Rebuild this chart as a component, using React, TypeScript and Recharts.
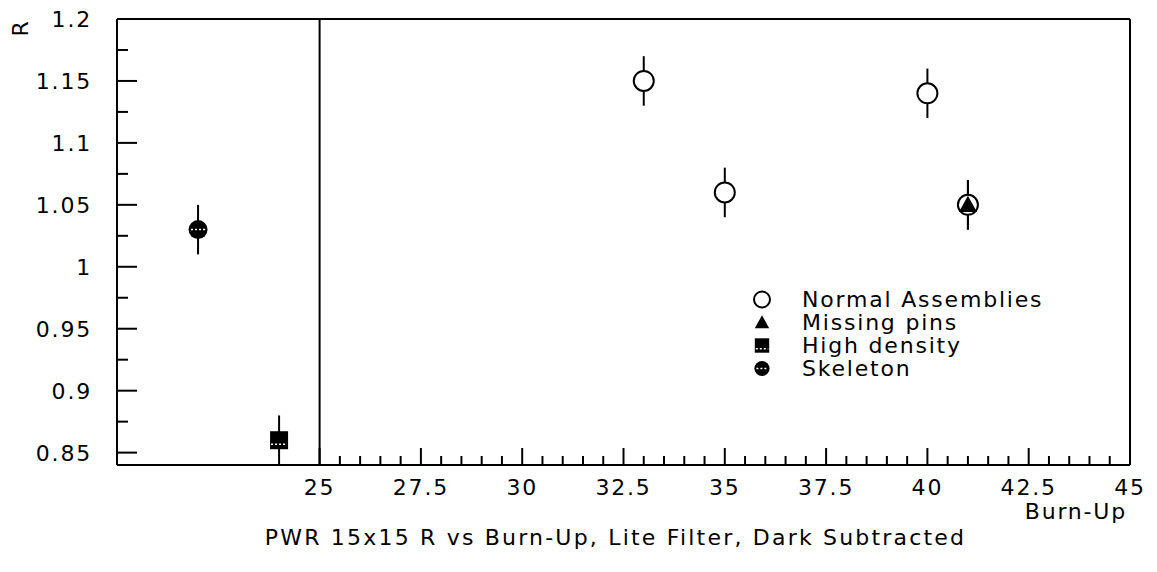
import {
  ErrorBar,
  Label,
  Legend,
  ReferenceLine,
  Scatter,
  ScatterChart,
  XAxis,
  YAxis,
} from 'recharts'

const FONT = '"DejaVu Sans", sans-serif'
const INK = '#000'

// burn-up and R for each group of assemblies, error is +/- on R
const normalBurnUp = [33, 35, 40, 41]
const normalR = [1.15, 1.06, 1.14, 1.05]
const normalErr = [0.02, 0.02, 0.02, 0.02]

const missingBurnUp = [41]
const missingR = [1.05]
const missingErr = [0.02]

const highBurnUp = [24]
const highR = [0.86]
const highErr = [0.02]

const skeletonBurnUp = [22]
const skeletonR = [1.03]
const skeletonErr = [0.02]

const xMajor = [25, 27.5, 30, 32.5, 35, 37.5, 40, 42.5, 45]
const yMajor = [0.85, 0.9, 0.95, 1, 1.05, 1.1, 1.15, 1.2]

const toPoints = (xs: number[], ys: number[], es: number[]) =>
  xs.map((x, i) => ({ burnUp: x, r: ys[i], err: es[i] }))

// split each major interval into `parts` minor steps
const subdivide = (major: number[], parts: number) => {
  const out: number[] = []
  for (let i = 0; i < major.length - 1; i++) {
    const step = (major[i + 1] - major[i]) / parts
    for (let k = 0; k < parts; k++) out.push(+(major[i] + k * step).toFixed(4))
  }
  out.push(major[major.length - 1])
  return out
}

const xTicks = subdivide(xMajor, 5)
const yTicks = subdivide(yMajor, 2)
const isMajor = (v: number, majors: number[]) => majors.some((m) => Math.abs(m - v) < 1e-6)

// chart box
const W = 1157
const H = 572
const MARGIN = { top: 19, right: 27, bottom: 67, left: 57 }
const Y_AXIS_W = 60
const X_AXIS_H = 40
const PLOT_LEFT = MARGIN.left + Y_AXIS_W
const PLOT_BOTTOM = H - MARGIN.bottom - X_AXIS_H

const textStyle = { fontFamily: FONT, fontSize: 22, letterSpacing: 1.8, fill: INK }

type Kind = 'circle' | 'triangle' | 'square' | 'dot'

function Marker({ kind, cx, cy, s = 1 }: { kind: Kind; cx: number; cy: number; s?: number }) {
  if (kind === 'circle')
    return <circle cx={cx} cy={cy} r={10 * s} fill="#fff" stroke={INK} strokeWidth={2} />
  if (kind === 'triangle') {
    const h = 9 * s
    return <polygon points={`${cx},${cy - h} ${cx - h},${cy + h * 0.8} ${cx + h},${cy + h * 0.8}`} fill={INK} />
  }
  if (kind === 'square') {
    const h = 9 * s
    return (
      <g>
        <rect x={cx - h} y={cy - h} width={2 * h} height={2 * h} fill={INK} />
        <line x1={cx - h + 1} x2={cx + h - 1} y1={cy + h * 0.45} y2={cy + h * 0.45} stroke="#fff" strokeWidth={1.5} strokeDasharray="2 2" />
      </g>
    )
  }
  return (
    <g>
      <circle cx={cx} cy={cy} r={9.5 * s} fill={INK} />
      <line x1={cx - 7 * s} x2={cx + 7 * s} y1={cy} y2={cy} stroke="#fff" strokeWidth={1.5} strokeDasharray="2 2" />
    </g>
  )
}

const series: { name: string; kind: Kind; data: ReturnType<typeof toPoints> }[] = [
  { name: 'Normal Assemblies', kind: 'circle', data: toPoints(normalBurnUp, normalR, normalErr) },
  { name: 'Missing pins', kind: 'triangle', data: toPoints(missingBurnUp, missingR, missingErr) },
  { name: 'High density', kind: 'square', data: toPoints(highBurnUp, highR, highErr) },
  { name: 'Skeleton', kind: 'dot', data: toPoints(skeletonBurnUp, skeletonR, skeletonErr) },
]

// ticks point inward, labels sit outside the frame
function YTick(props: any) {
  const { y, payload } = props
  const major = isMajor(payload.value, yMajor)
  return (
    <g>
      <line x1={PLOT_LEFT} x2={PLOT_LEFT + (major ? 20 : 11)} y1={y} y2={y} stroke={INK} strokeWidth={2} />
      {major && (
        <text x={PLOT_LEFT - 25} y={y} dy="0.36em" textAnchor="end" style={textStyle}>
          {String(payload.value)}
        </text>
      )}
    </g>
  )
}

function XTick(props: any) {
  const { x, payload } = props
  const major = isMajor(payload.value, xMajor)
  return (
    <g>
      <line x1={x} x2={x} y1={PLOT_BOTTOM} y2={PLOT_BOTTOM - (major ? 17 : 9)} stroke={INK} strokeWidth={2} />
      {major && (
        <text x={x} y={PLOT_BOTTOM + 30} textAnchor="middle" style={textStyle}>
          {String(payload.value)}
        </text>
      )}
    </g>
  )
}

function LegendBox() {
  return (
    <div style={{ fontFamily: FONT, fontSize: 22, letterSpacing: 1.8, color: INK }}>
      {series.map((s) => (
        <div key={s.name} style={{ display: 'flex', alignItems: 'center', height: 23 }}>
          <svg width={24} height={23}>
            <Marker kind={s.kind} cx={12} cy={11.5} s={0.8} />
          </svg>
          <span style={{ marginLeft: 28, lineHeight: '23px' }}>{s.name}</span>
        </div>
      ))}
    </div>
  )
}

export default function App() {
  return (
    <div style={{ position: 'absolute', left: 0, top: 0, background: '#fff' }}>
      <ScatterChart width={W} height={H} margin={MARGIN}>
        <XAxis
          type="number"
          dataKey="burnUp"
          domain={[20, 45]}
          allowDataOverflow
          ticks={xTicks}
          interval={0}
          tickSize={0}
          tickMargin={0}
          tick={<XTick />}
          axisLine={{ stroke: INK, strokeWidth: 2 }}
          height={X_AXIS_H}
        >
          <Label
            content={({ viewBox }: any) => (
              <text x={viewBox.x + viewBox.width - 3} y={PLOT_BOTTOM + 54} textAnchor="end" style={textStyle}>
                Burn-Up
              </text>
            )}
          />
          <Label
            content={({ viewBox }: any) => (
              <text
                x={viewBox.x + viewBox.width / 2 - 8}
                y={PLOT_BOTTOM + 80}
                textAnchor="middle"
                style={{ ...textStyle, letterSpacing: 2.2 }}
              >
                PWR 15x15 R vs Burn-Up, Lite Filter, Dark Subtracted
              </text>
            )}
          />
        </XAxis>
        <YAxis
          type="number"
          dataKey="r"
          domain={[0.84, 1.2]}
          allowDataOverflow
          ticks={yTicks}
          interval={0}
          tickSize={0}
          tick={<YTick />}
          axisLine={{ stroke: INK, strokeWidth: 2 }}
          width={Y_AXIS_W}
        >
          <Label
            content={() => (
              <text
                x={20}
                y={MARGIN.top + 9}
                textAnchor="middle"
                dominantBaseline="central"
                transform={`rotate(-90 20 ${MARGIN.top + 9})`}
                style={textStyle}
              >
                R
              </text>
            )}
          />
        </YAxis>
        <ReferenceLine y={1.2} stroke={INK} strokeWidth={2} />
        <ReferenceLine x={45} stroke={INK} strokeWidth={2} />
        <ReferenceLine x={25} stroke={INK} strokeWidth={2} />
        {series.map((s) => (
          <Scatter
            key={s.name}
            name={s.name}
            data={s.data}
            isAnimationActive={false}
            shape={(p: any) => <Marker kind={s.kind} cx={p.cx} cy={p.cy} />}
          >
            <ErrorBar dataKey="err" direction="y" width={0} stroke={INK} strokeWidth={2} />
          </Scatter>
        ))}
        <Legend
          layout="vertical"
          align="center"
          verticalAlign="middle"
          content={<LegendBox />}
          wrapperStyle={{ left: 750, top: 288, width: 400 }}
        />
      </ScatterChart>
    </div>
  )
}
